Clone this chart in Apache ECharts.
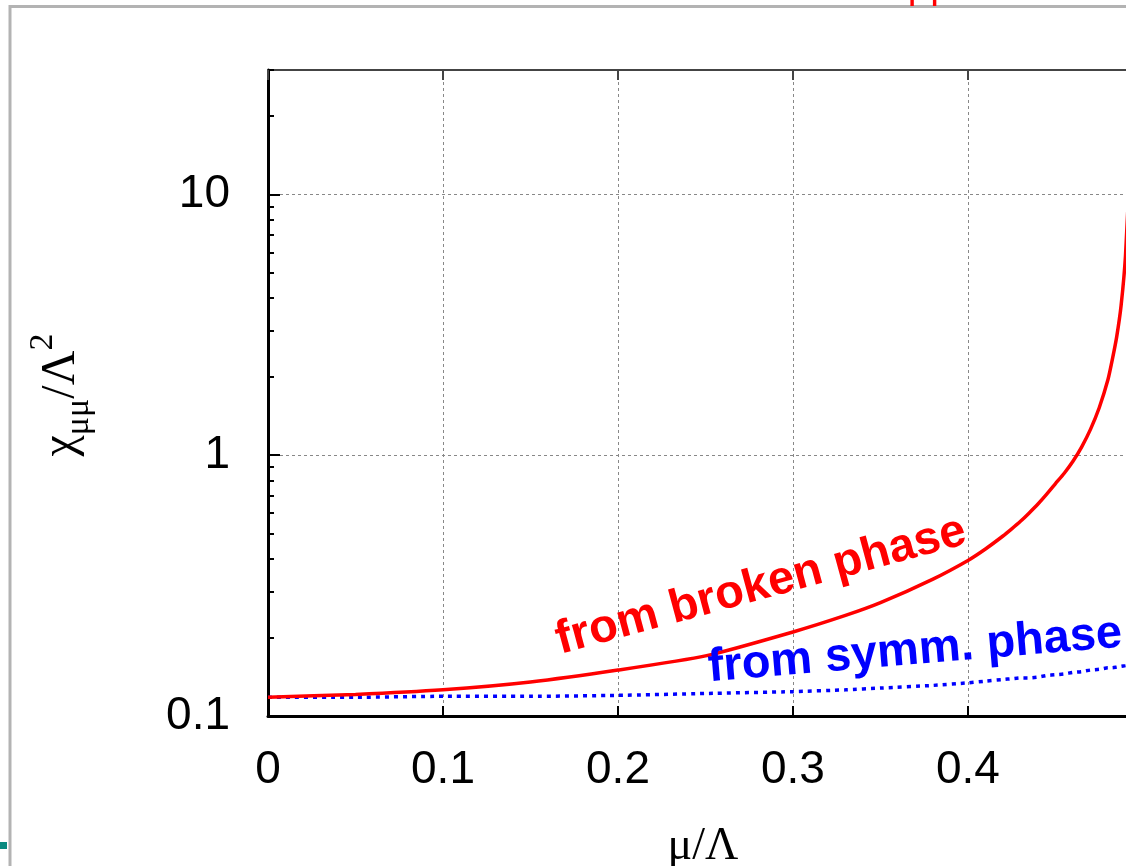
<!DOCTYPE html>
<html>
<head>
<meta charset="utf-8">
<script src="https://cdn.jsdelivr.net/npm/echarts@6.0.0/dist/echarts.min.js"></script>
<style>
  html, body { margin: 0; padding: 0; background: #fff; }
  #chart { width: 1126px; height: 866px; }
</style>
</head>
<body>
<div id="chart"></div>
<script>
// mu/Lambda values and the two susceptibility curves
const mu = [0, 0.05, 0.1, 0.15, 0.2, 0.25, 0.3, 0.33, 0.35, 0.38, 0.4, 0.41, 0.42, 0.425, 0.43, 0.435, 0.44, 0.445, 0.45, 0.455, 0.46, 0.465, 0.47, 0.475, 0.48, 0.4825, 0.485, 0.4875, 0.49, 0.4925];
const brokenPhase = [0.118, 0.121, 0.126, 0.135, 0.150, 0.170, 0.21, 0.243, 0.272, 0.335, 0.395, 0.437, 0.49, 0.522, 0.558, 0.601, 0.65, 0.709, 0.778, 0.853, 0.948, 1.077, 1.256, 1.52, 1.95, 2.33, 2.85, 3.75, 5.8, 13];
const symmPhase = [0.118, 0.118, 0.119, 0.119, 0.120, 0.122, 0.124, 0.126, 0.128, 0.131, 0.134, 0.136, 0.138, 0.139, 0.140, 0.140, 0.141, 0.143, 0.144, 0.145, 0.147, 0.148, 0.150, 0.151, 0.153, 0.153, 0.154, 0.155, 0.156, 0.157];

const xTicks = [0, 0.1, 0.2, 0.3, 0.4];
const yLabels = [0.1, 1, 10];
const yMinor = [0.2, 0.3, 0.4, 0.5, 0.6, 0.7, 0.8, 0.9, 2, 3, 4, 5, 6, 7, 8, 9, 20, 30];

const chart = echarts.init(document.getElementById('chart'));

const sans = '"Liberation Sans", Arial, Helvetica, sans-serif';
const serif = '"Liberation Serif", "DejaVu Serif", serif';
const gridLine = { show: true, lineStyle: { color: '#888', width: 1, type: [3, 3] } };

// the picture is cropped: the right edge of the canvas sits at mu/Lambda ~ 0.4903
const option = {
  backgroundColor: '#fff',
  animation: false,
  grid: { left: 268, top: 70, right: 0, bottom: 150 },
  xAxis: [
    {
      type: 'value', min: 0, max: 0.4903, position: 'bottom',
      axisLine: { lineStyle: { color: '#000', width: 3 } },
      axisTick: { inside: true, length: 10, customValues: xTicks, lineStyle: { color: '#000', width: 2 } },
      axisLabel: { customValues: xTicks, fontSize: 46, fontFamily: sans, color: '#000', margin: 31 },
      splitLine: gridLine
    },
    {
      type: 'value', min: 0, max: 0.4903, position: 'top',
      axisLine: { lineStyle: { color: '#444', width: 2 } },
      axisTick: { inside: true, length: 10, customValues: xTicks, lineStyle: { color: '#444', width: 2 } },
      axisLabel: { show: false },
      splitLine: { show: false }
    }
  ],
  yAxis: [
    {
      type: 'log', logBase: 10, min: 0.1, max: 30,
      axisLine: { show: true, lineStyle: { color: '#000', width: 3 } },
      axisTick: { show: true, inside: true, length: 12, customValues: yLabels, lineStyle: { color: '#000', width: 2 } },
      axisLabel: { customValues: yLabels, fontSize: 46, fontFamily: sans, color: '#000', margin: 38,
        formatter: v => String(v) },
      splitLine: gridLine
    },
    {
      type: 'log', logBase: 10, min: 0.1, max: 30, position: 'left',
      axisLine: { show: false },
      axisTick: { show: true, inside: true, length: 6, customValues: yMinor, lineStyle: { color: '#000', width: 2 } },
      axisLabel: { show: false },
      splitLine: { show: false }
    }
  ],
  series: [
    {
      name: 'symm', type: 'line', showSymbol: false, smooth: 0.2,
      data: mu.map((m, i) => [m, symmPhase[i]]),
      lineStyle: { color: '#0000ff', width: 3.5, type: [4, 5] }
    },
    {
      name: 'broken', type: 'line', showSymbol: false, smooth: 0.2,
      data: mu.map((m, i) => [m, brokenPhase[i]]),
      lineStyle: { color: '#ff0000', width: 3.5 }
    }
  ],
  graphic: [
    { type: 'rect', shape: { x: 10, y: 6.5, width: 2000, height: 2000 },
      style: { fill: 'none', stroke: '#b3b3b3', lineWidth: 3 }, z: 100 },
    { type: 'rect', shape: { x: 0, y: 842, width: 7, height: 7 }, style: { fill: '#0a8a80' }, z: 100 },
    { type: 'text', x: 907, y: -14, z: 101,
      style: { text: 'μμ', font: '42px ' + serif, fill: '#ff0000', align: 'left', verticalAlign: 'middle' } },
    { type: 'text', x: 61, y: 395, rotation: Math.PI / 2, z: 101,
      style: {
        text: '{m|χ}{s|μμ}{m|/Λ}{p|2}', align: 'center', verticalAlign: 'middle',
        rich: {
          m: { font: '48px ' + serif, fill: '#000', lineHeight: 70, verticalAlign: 'middle' },
          s: { font: '34px ' + serif, fill: '#000', lineHeight: 40, verticalAlign: 'bottom' },
          p: { font: '34px ' + serif, fill: '#000', lineHeight: 34, verticalAlign: 'top' }
        }
      } },
    { type: 'text', x: 703, y: 847, z: 101,
      style: { text: 'μ/Λ', font: '46px ' + serif, fill: '#000', align: 'center', verticalAlign: 'middle' } },
    { type: 'text', x: 761, y: 586, rotation: 15.2 * Math.PI / 180, z: 101,
      style: { text: 'from broken phase', font: 'bold 47px ' + sans, fill: '#ff0000', align: 'center', verticalAlign: 'middle' } },
    { type: 'text', x: 915, y: 651, rotation: 4.8 * Math.PI / 180, z: 101,
      style: { text: 'from symm. phase', font: 'bold 47px ' + sans, fill: '#0000ff', align: 'center', verticalAlign: 'middle' } }
  ]
};

chart.setOption(option);
window.addEventListener('resize', () => chart.resize());
</script>
</body>
</html>
